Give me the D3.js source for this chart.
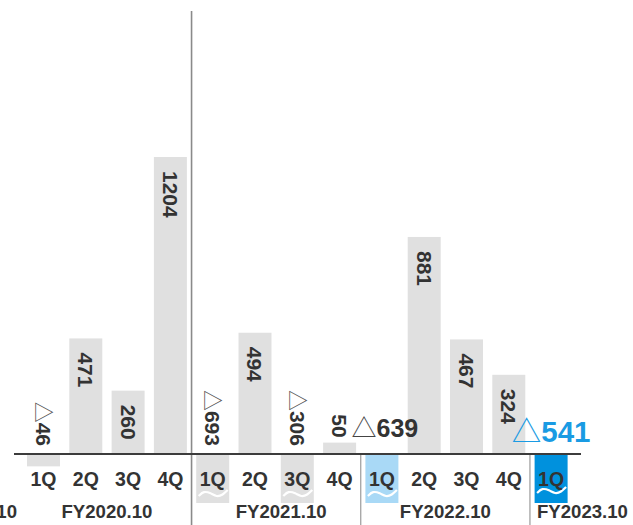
<!DOCTYPE html>
<html>
<head>
<meta charset="utf-8">
<script src="https://cdn.jsdelivr.net/npm/d3@7"></script>
<style>
  body { margin: 0; background: #fff; }
  svg { display: block; }
</style>
</head>
<body>
<svg id="mainsvg" width="633" height="525"></svg>
<script>
// data
const yearLabels = ["FY2019.10", "FY2020.10", "FY2021.10", "FY2022.10", "FY2023.10"];
const quarterLabels = ["1Q", "2Q", "3Q", "4Q", "1Q", "2Q", "3Q", "4Q", "1Q", "2Q", "3Q", "4Q", "1Q"];
const quarterYears = ["FY2020.10", "FY2020.10", "FY2020.10", "FY2020.10",
                      "FY2021.10", "FY2021.10", "FY2021.10", "FY2021.10",
                      "FY2022.10", "FY2022.10", "FY2022.10", "FY2022.10",
                      "FY2023.10"];
const values = [-46, 471, 260, 1204, -693, 494, -306, 50, -639, 881, 467, 324, -541];
const highlight = ["", "", "", "", "", "", "", "", "prev", "", "", "", "current"];

const FONT = "'Liberation Sans', Arial, sans-serif";
const TRI_FONT = "'Noto Sans CJK JP', 'DejaVu Sans', sans-serif";
const barColor = {"": "#e0e0e0", "prev": "#a9d9f6", "current": "#0091dd"};

let svg = d3.select("#mainsvg");

let x = d3.scaleBand()
    .domain(d3.range(values.length))
    .range([22.35, 572.25])
    .paddingInner(0.22)
    .paddingOuter(0.11);
let cx = i => x(i) + x.bandwidth() / 2;

let y = d3.scaleLinear().domain([-194, 1794]).range([503, 11]);
let y0 = y(0);

// clip for the bars that run off the bottom
svg.append("defs").append("clipPath").attr("id", "plot-clip")
    .append("rect").attr("x", 0).attr("y", 11).attr("width", 633).attr("height", 492);

let barg = svg.append("g").attr("clip-path", "url(#plot-clip)");
barg.selectAll("rect.bar").data(values).enter()
    .append("rect")
    .attr("class", "bar")
    .attr("x", (d, i) => x(i))
    .attr("width", x.bandwidth())
    .attr("y", d => Math.min(y(d), y0))
    .attr("height", d => Math.abs(y(d) - y0))
    .attr("fill", (d, i) => barColor[highlight[i]]);

// break marks on bars cut by the bottom edge
let wave = d3.line().curve(d3.curveBasis);
svg.append("g").selectAll("path.wave")
    .data(values.map((d, i) => i).filter(i => y(values[i]) > 503))
    .enter()
    .append("path")
    .attr("class", "wave")
    .attr("d", i => {
        let c = cx(i), b = highlight[i] === "current" ? 491 : 494;
        return wave([[c - 14, b + 2], [c - 9, b - 3], [c - 2, b - 1], [c + 4, b + 3], [c + 10, b + 1], [c + 15, b - 4]]);
    })
    .attr("fill", "none")
    .attr("stroke", "#fff")
    .attr("stroke-width", 2.2);

// separators
let seps = [3, 7, 11].map(i => (cx(i) + cx(i + 1)) / 2);
svg.append("g").selectAll("line").data(seps).enter()
    .append("line")
    .attr("x1", d => d).attr("x2", d => d)
    .attr("y1", (d, i) => i === 0 ? 11 : y0)
    .attr("y2", 525)
    .attr("stroke", (d, i) => i === 0 ? "#8a8a8a" : "#9a9a9a")
    .attr("stroke-width", (d, i) => i === 0 ? 1.6 : 1.2);

// zero line
svg.append("line")
    .attr("x1", 14).attr("x2", 581)
    .attr("y1", y0 - 1).attr("y2", y0 - 1)
    .attr("stroke", "#3c3c3c")
    .attr("stroke-width", 2);

// value labels
let textg = svg.append("g").attr("font-family", FONT).attr("font-weight", "bold").attr("fill", "#333");

values.forEach((v, i) => {
    let c = cx(i);
    if (highlight[i] !== "") {
        let cur = highlight[i] === "current";
        let t = textg.append("text")
            .attr("x", c + (cur ? 0 : 3))
            .attr("y", cur ? 442 : 437)
            .attr("text-anchor", "middle")
            .attr("font-size", cur ? 29.5 : 25)
            .attr("fill", cur ? "#1a9be3" : "#333");
        t.append("tspan").attr("font-family", TRI_FONT).attr("font-weight", "normal")
            .attr("fill", cur ? "#1a9be3" : "#444").text("△");
        t.append("tspan").text(Math.abs(v));
        return;
    }
    let h = Math.abs(y(v) - y0);
    let ty, anchor;
    if (v < 0) { ty = y0 - 9; anchor = "end"; }
    else if (h > 50) { ty = y(v) + 14; anchor = "start"; }
    else { ty = y(v) - 5; anchor = "end"; }
    let t = textg.append("text")
        .attr("transform", "translate(" + c + "," + ty + ") rotate(90)")
        .attr("dy", "0.36em")
        .attr("text-anchor", anchor)
        .attr("font-size", 21);
    if (v < 0) {
        t.append("tspan").attr("font-family", TRI_FONT).attr("font-weight", "normal")
            .attr("fill", "#555").text("△");
    }
    t.append("tspan").text(Math.abs(v));
});

// quarter labels
svg.append("g").selectAll("text").data(quarterLabels).enter()
    .append("text")
    .attr("x", (d, i) => cx(i))
    .attr("y", 486)
    .attr("text-anchor", "middle")
    .attr("font-family", FONT)
    .attr("font-weight", "bold")
    .attr("font-size", 19.5)
    .attr("fill", "#333")
    .text(d => d);

// fiscal year labels
let groupCenter = yr => {
    let idx = quarterYears.map((q, i) => q === yr ? i : -1).filter(i => i >= 0);
    return (cx(idx[0]) + cx(idx[idx.length - 1])) / 2;
};
svg.append("g").selectAll("text").data(yearLabels).enter()
    .append("text")
    .attr("x", (d, i) => {
        if (i === 0) return 17;
        if (i === yearLabels.length - 1) return seps[seps.length - 1] + 7;
        return groupCenter(d) + (i === 2 ? 5 : 0);
    })
    .attr("y", 518)
    .attr("text-anchor", (d, i) => i === 0 ? "end" : (i === yearLabels.length - 1 ? "start" : "middle"))
    .attr("font-family", FONT)
    .attr("font-weight", "bold")
    .attr("font-size", 18.6)
    .attr("fill", "#333")
    .text(d => d);
</script>
</body>
</html>
